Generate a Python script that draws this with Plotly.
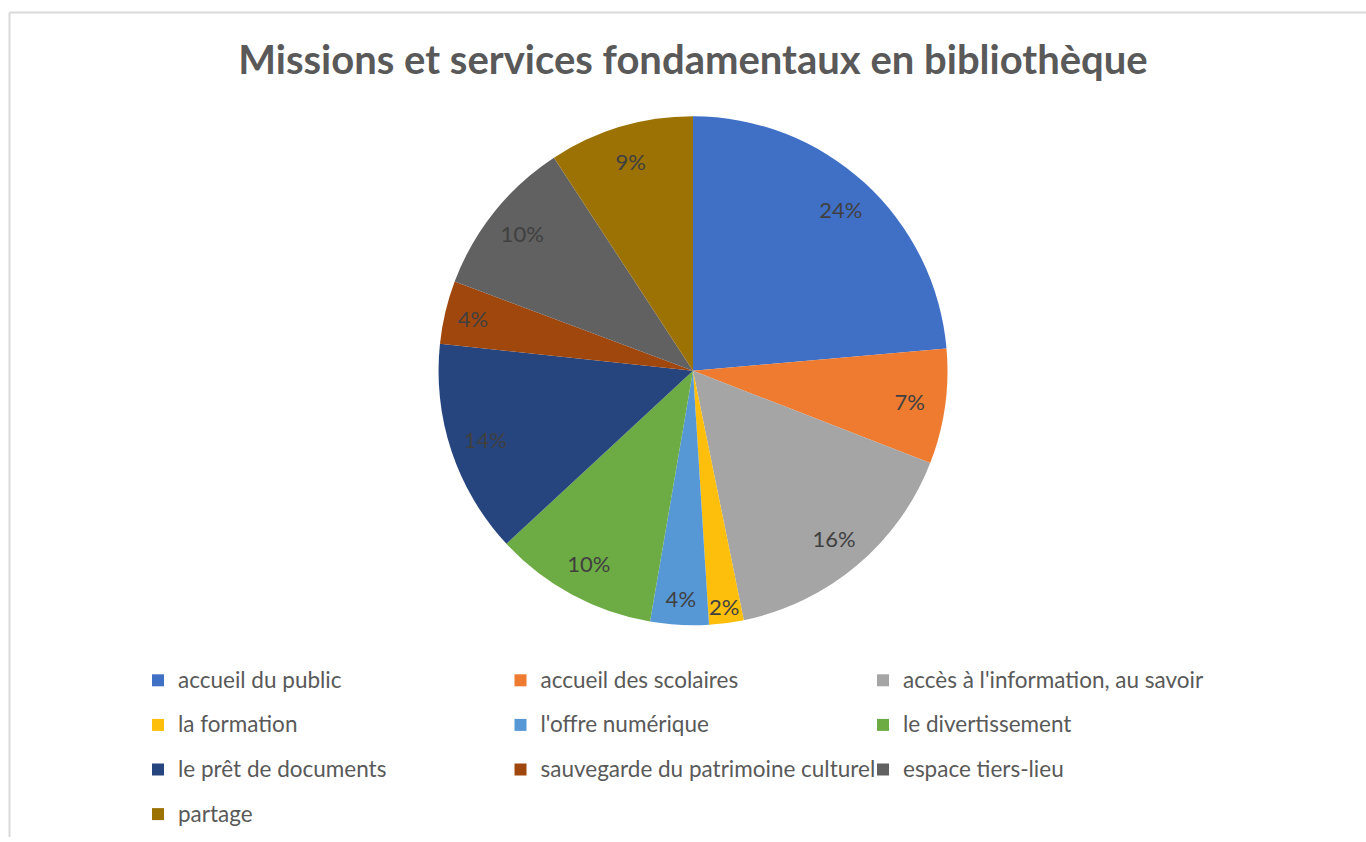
import plotly.graph_objects as go

categories = [
    "accueil du public",
    "accueil des scolaires",
    "accès à l'information, au savoir",
    "la formation",
    "l'offre numérique",
    "le divertissement",
    "le prêt de documents",
    "sauvegarde du patrimoine culturel",
    "espace tiers-lieu",
    "partage",
]
shares = [23.6, 7.3, 15.9, 2.2, 3.7, 10.4, 13.6, 4.0, 10.1, 9.2]
colors = [
    "#4070C6", "#EE7B30", "#A5A5A5", "#FDBF0C", "#5698D6",
    "#6DAC44", "#26447E", "#A0470D", "#616161", "#9B7203",
]
title_text = "Missions et services fondamentaux en bibliothèque"

W, H = 1366, 842
cx, cy, R = 693, 373, 256
dom_x = [(cx - R) / W, (cx + R) / W]
dom_y = [(H - cy - R) / H, (H - cy + R) / H]

legend_labels = [
    '<span style="font-size:22.5px;baseline-shift:5px">%s</span>' % c
    for c in categories
]

fig = go.Figure()
fig.add_trace(go.Pie(
    labels=legend_labels,
    values=shares,
    sort=False,
    direction="clockwise",
    rotation=0,
    marker=dict(colors=colors, line=dict(width=0)),
    textinfo="none",
    domain=dict(x=dom_x, y=dom_y),
    hovertemplate="%{customdata}: %{percent}<extra></extra>",
    customdata=categories,
))
fig.add_trace(go.Pie(
    labels=legend_labels,
    values=shares,
    sort=False,
    direction="clockwise",
    rotation=0,
    hole=0.72,
    marker=dict(colors=["rgba(0,0,0,0)"] * len(shares), line=dict(width=0)),
    texttemplate="%{percent:.0%}",
    textposition="inside",
    insidetextorientation="horizontal",
    textfont=dict(family="Lato", size=22, color="#404040"),
    domain=dict(x=dom_x, y=dom_y),
    showlegend=False,
    hoverinfo="skip",
))

fig.update_layout(
    width=W, height=H,
    margin=dict(l=0, r=0, t=0, b=0),
    paper_bgcolor="white",
    plot_bgcolor="white",
    title=dict(
        text="<b>%s</b>" % title_text,
        x=0.5 + (693 - W / 2) / W, xanchor="center",
        y=1 - 60 / H, yanchor="middle", yref="container",
        font=dict(family="Lato", size=40, color="#595959"),
    ),
    uniformtext=dict(minsize=22, mode="show"),
    legend=dict(
        orientation="h",
        x=138 / W, xanchor="left",
        y=1 - 657 / H, yanchor="top",
        entrywidth=317.5,
        entrywidthmode="pixels",
        font=dict(family="Lato", size=32, color="#595959"),
        bgcolor="rgba(0,0,0,0)",
        traceorder="normal",
    ),
    shapes=[
        dict(type="line", xref="paper", yref="paper",
             x0=9.5 / W, x1=1.0, y0=1 - 12.5 / H, y1=1 - 12.5 / H,
             line=dict(color="#D9D9D9", width=2)),
        dict(type="line", xref="paper", yref="paper",
             x0=9.5 / W, x1=9.5 / W, y0=1 - 12.5 / H, y1=0,
             line=dict(color="#D9D9D9", width=2)),
    ],
)

fig.write_html("out.html")
